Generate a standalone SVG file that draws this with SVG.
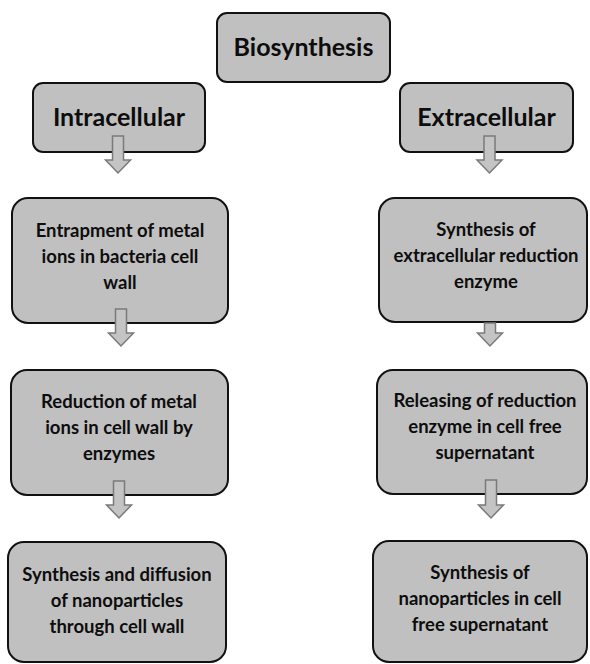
<svg xmlns="http://www.w3.org/2000/svg" width="590" height="664" viewBox="0 0 590 664">
  <defs>
    <style>
      .box { fill: #c0c0c0; stroke: #111; stroke-width: 2; }
      .lbl { font-family: "Lato", "Liberation Sans", sans-serif; font-weight: bold; fill: #0d0d0d; text-anchor: middle; }
      .big { font-size: 25px; }
      .small { font-size: 18.5px; }
      .arrow { fill: #c4c4c4; stroke: #7a7a7a; stroke-width: 1.5; stroke-linejoin: miter; }
    </style>
  </defs>

  <rect width="590" height="664" fill="#fff"/>

  <g id="biosynthesis">
    <rect class="box" x="217" y="13" width="173" height="69" rx="10"/>
    <text class="lbl big" x="303.5" y="56">Biosynthesis</text>
  </g>

  <g id="intracellular">
    <rect class="box" x="33" y="83" width="172" height="69" rx="10"/>
    <text class="lbl big" x="119" y="126">Intracellular</text>
  </g>

  <g id="extracellular">
    <rect class="box" x="400" y="83" width="173" height="69" rx="10"/>
    <text class="lbl big" x="486.5" y="126">Extracellular</text>
  </g>

  <g id="entrapment">
    <rect class="box" x="12" y="198" width="216" height="125" rx="16"/>
    <text class="lbl small" x="120" y="237">Entrapment of metal</text>
    <text class="lbl small" x="120" y="263">ions in bacteria cell</text>
    <text class="lbl small" x="120" y="289">wall</text>
  </g>

  <g id="reduction">
    <rect class="box" x="11" y="370" width="217" height="125" rx="16"/>
    <text class="lbl small" x="119" y="408">Reduction of metal</text>
    <text class="lbl small" x="119" y="434">ions in cell wall by</text>
    <text class="lbl small" x="119" y="460">enzymes</text>
  </g>

  <g id="diffusion">
    <rect class="box" x="8" y="542" width="218" height="120" rx="16"/>
    <text class="lbl small" x="117" y="581">Synthesis and diffusion</text>
    <text class="lbl small" x="117" y="607">of nanoparticles</text>
    <text class="lbl small" x="117" y="633">through cell wall</text>
  </g>

  <g id="enzyme-synthesis">
    <rect class="box" x="379" y="198" width="208" height="124" rx="16"/>
    <text class="lbl small" x="486" y="236">Synthesis of</text>
    <text class="lbl small" x="486" y="262">extracellular reduction</text>
    <text class="lbl small" x="486" y="288">enzyme</text>
  </g>

  <g id="enzyme-release">
    <rect class="box" x="377" y="370" width="210" height="124" rx="16"/>
    <text class="lbl small" x="485" y="407">Releasing of reduction</text>
    <text class="lbl small" x="485" y="433">enzyme in cell free</text>
    <text class="lbl small" x="485" y="459">supernatant</text>
  </g>

  <g id="supernatant-synthesis">
    <rect class="box" x="373" y="541" width="214" height="121" rx="16"/>
    <text class="lbl small" x="480" y="579">Synthesis of</text>
    <text class="lbl small" x="480" y="605">nanoparticles in cell</text>
    <text class="lbl small" x="480" y="631">free supernatant</text>
  </g>

  <!-- hollow block arrows: 11px shaft, 25px head, 13px head length -->
  <g id="connectors" class="arrow">
    <path d="M 112.5 136 H 123.5 V 160 H 130.5 L 118 173 L 105.5 160 H 112.5 Z"/>
    <path d="M 484 136 H 495 V 160 H 502 L 489.5 173 L 477 160 H 484 Z"/>
    <path d="M 115.5 309 H 126.5 V 333 H 133.5 L 121 346 L 108.5 333 H 115.5 Z"/>
    <path d="M 484.5 323 H 495.5 V 333 H 502.5 L 490 346 L 477.5 333 H 484.5 Z"/>
    <path d="M 113.5 481 H 124.5 V 505 H 131.5 L 119 518 L 106.5 505 H 113.5 Z"/>
    <path d="M 485.5 480 H 496.5 V 505 H 503.5 L 491 518 L 478.5 505 H 485.5 Z"/>
  </g>
</svg>
